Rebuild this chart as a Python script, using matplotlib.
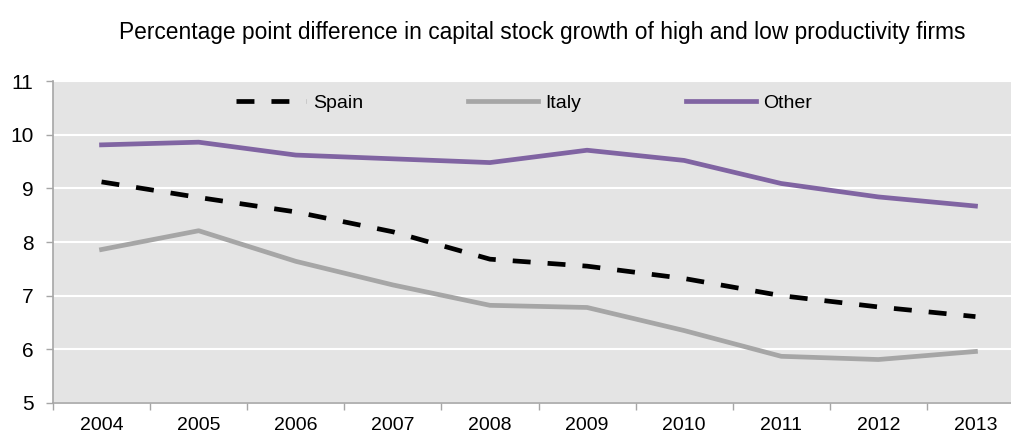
import numpy as np
import matplotlib
matplotlib.use("Agg")
import matplotlib.pyplot as plt

plt.rcParams['font.family'] = ['Liberation Sans', 'DejaVu Sans']

# 数据
years = ['2004', '2005', '2006', '2007', '2008', '2009', '2010', '2011', '2012', '2013']
spain = [9.12, 8.83, 8.56, 8.19, 7.68, 7.55, 7.32, 7.00, 6.79, 6.61]
italy = [7.86, 8.21, 7.64, 7.20, 6.82, 6.78, 6.35, 5.87, 5.81, 5.96]
other = [9.81, 9.86, 9.62, 9.55, 9.48, 9.71, 9.52, 9.09, 8.84, 8.67]
yticks = [5, 6, 7, 8, 9, 10, 11]

title = 'Percentage point difference in capital stock growth of high and low productivity firms'

fig = plt.figure(figsize=(10.11, 4.34), dpi=100)
# 绘图区右侧超出画布（原图被裁切）
ax = fig.add_axes([53 / 1011, 1 - 403 / 434, (1024 - 53) / 1011, (403 - 81) / 434])
ax.set_facecolor('#E4E4E4')

x = np.arange(len(years))
ax.plot(x, spain, color='black', lw=3.4, linestyle=(0, (3.8, 3.6)), label='Spain')
ax.plot(x, italy, color='#A6A6A6', lw=3.4, label='Italy')
ax.plot(x, other, color='#8064A2', lw=3.4, label='Other')

ax.set_xlim(-0.5, len(years) - 0.5)
ax.set_ylim(5, 11)
ax.set_yticks(yticks)
ax.set_yticklabels([str(v) for v in yticks])
ax.set_xticks(x)
ax.set_xticklabels(years)
ax.set_xticks(np.arange(len(years) + 1) - 0.5, minor=True)
ax.tick_params(axis='x', which='major', length=0, pad=10, labelsize=14)
ax.tick_params(axis='x', which='minor', length=5, color='#A6A6A6', width=1)
ax.tick_params(axis='y', length=5, color='#A6A6A6', width=1, pad=9, labelsize=15)

ax.grid(axis='y', color='white', lw=1.5)
ax.set_axisbelow(True)
for s in ['top', 'right']:
    ax.spines[s].set_visible(False)
for s in ['left', 'bottom']:
    ax.spines[s].set_color('#A6A6A6')
    ax.spines[s].set_linewidth(1.2)

ax.legend(loc='center', bbox_to_anchor=(524 / 1011, 1 - 103 / 434),
          bbox_transform=fig.transFigure, ncol=3, frameon=False,
          fontsize=14, handlelength=3.6, handletextpad=0.35, columnspacing=5.4)

fig.text(542 / 1011, 1 - 33 / 434, title, ha='center', va='center', fontsize=16.4)

fig.savefig('out.png', dpi=100)
